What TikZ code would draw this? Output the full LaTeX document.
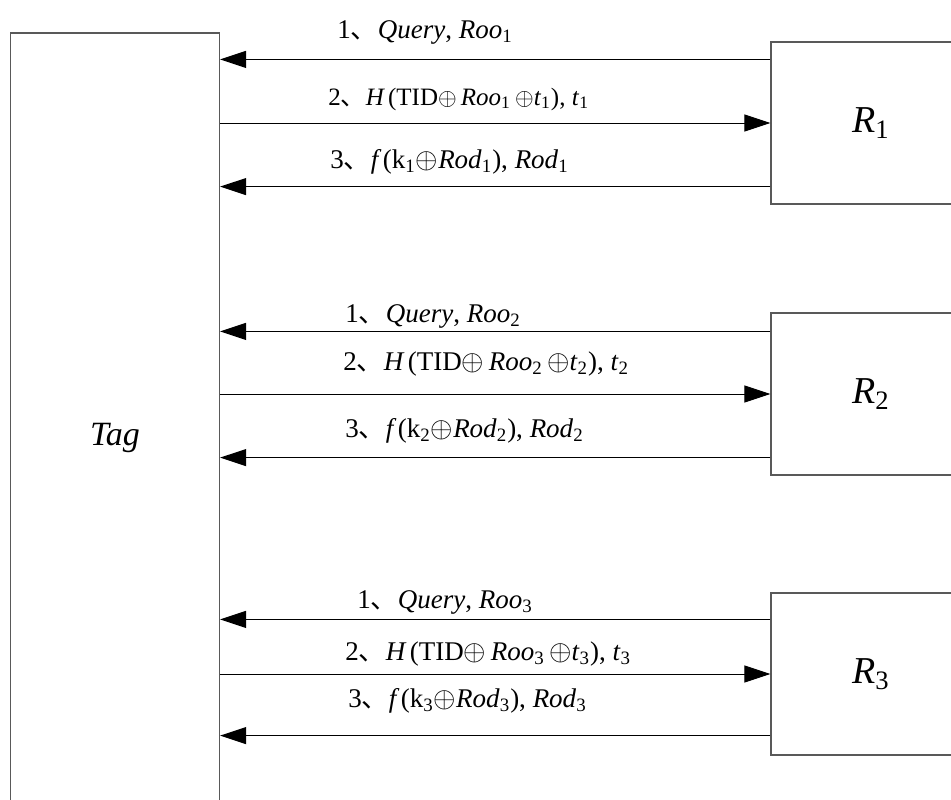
\documentclass[tikz,border=0pt]{standalone}
\usepackage{fontspec}
\setmainfont{Liberation Serif}
\newfontfamily\cjk{Noto Sans CJK SC}
\usetikzlibrary{arrows.meta,positioning}
\newcommand{\dun}{{\cjk 、}}
\newcommand{\lo}[1]{\textsubscript{#1}}

\begin{document}
\begin{tikzpicture}[x=0.5pt,y=-0.5pt,>={Triangle[length=13pt,width=8.5pt]},
box/.style={draw=black!65,line width=0.6pt,inner sep=0pt},
reader/.style={box,minimum width=100pt,minimum height=81pt,font=\fontsize{19}{22}\selectfont},
msg/.style={anchor=base west,inner sep=0pt,font=\fontsize{13.5}{16}\selectfont},
sig/.style={line width=0.5pt}]
\clip (0,0) rectangle (951,799);
\node[box,minimum width=104.5pt,minimum height=405pt,font=\fontsize{17}{20}\selectfont] (tag) at (115,438) {\textit{Tag}};
\node[reader] (r1) at (871,123) {\textit{R}\lo{1}};
\node[reader] (r2) at (871,394) {\textit{R}\lo{2}};
\node[reader] (r3) at (871,674) {\textit{R}\lo{3}};
% reader 1
\coordinate (q1) at ([yshift=-9pt]r1.north west);
\coordinate (d1) at ([yshift=9pt]r1.south west);
\draw[sig,->] (q1) -- (tag.east |- q1);
\draw[sig,->] (tag.east |- r1.west) -- (r1.west);
\draw[sig,->] (d1) -- (tag.east |- d1);
\node[msg] (m11) at (337,38) {1\dun\textit{Query}, \textit{Roo}\lo{1}};
\node[msg,font=\fontsize{12.5}{15}\selectfont] (m12) at (328,105) {2\dun\textit{H\,}(TID$\oplus$\,\textit{Roo}\lo{1}\,$\oplus$\textit{t}\lo{1}), \textit{t}\lo{1}};
\node[msg] (m13) at (330,168) {3\dun\textit{f\,}(k\lo{1}$\oplus$\textit{Rod}\lo{1}), \textit{Rod}\lo{1}};
% reader 2
\coordinate (q2) at ([yshift=-9.5pt]r2.north west);
\coordinate (d2) at ([yshift=9pt]r2.south west);
\draw[sig,->] (q2) -- (tag.east |- q2);
\draw[sig,->] (tag.east |- r2.west) -- (r2.west);
\draw[sig,->] (d2) -- (tag.east |- d2);
\node[msg] (m21) at (345,322) {1\dun\textit{Query}, \textit{Roo}\lo{2}};
\node[msg] (m22) at (343,370) {2\dun\textit{H\,}(TID$\oplus$\,\textit{Roo}\lo{2}\,$\oplus$\textit{t}\lo{2}), \textit{t}\lo{2}};
\node[msg] (m23) at (345,437) {3\dun\textit{f\,}(k\lo{2}$\oplus$\textit{Rod}\lo{2}), \textit{Rod}\lo{2}};
% reader 3
\coordinate (q3) at ([yshift=-13.5pt]r3.north west);
\coordinate (d3) at ([yshift=10pt]r3.south west);
\draw[sig,->] (q3) -- (tag.east |- q3);
\draw[sig,->] (tag.east |- r3.west) -- (r3.west);
\draw[sig,->] (d3) -- (tag.east |- d3);
\node[msg] (m31) at (357,608) {1\dun\textit{Query}, \textit{Roo}\lo{3}};
\node[msg] (m32) at (345,660) {2\dun\textit{H\,}(TID$\oplus$\,\textit{Roo}\lo{3}\,$\oplus$\textit{t}\lo{3}), \textit{t}\lo{3}};
\node[msg] (m33) at (348,707) {3\dun\textit{f\,}(k\lo{3}$\oplus$\textit{Rod}\lo{3}), \textit{Rod}\lo{3}};
\end{tikzpicture}
\end{document}
